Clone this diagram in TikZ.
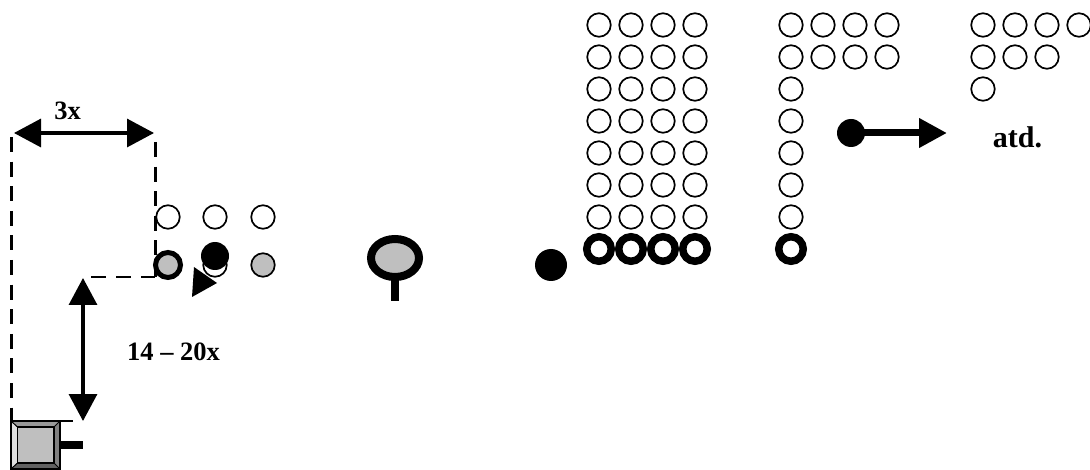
\documentclass[tikz,border=0pt]{standalone}
\usepackage{fontspec}
\setmainfont{Liberation Serif}
\usetikzlibrary{arrows.meta,shapes.geometric}
\tikzset{
  open/.style={circle,draw=black,fill=white,line width=1.7pt,minimum size=23.5pt,inner sep=0pt,outer sep=0pt},
  ring/.style={circle,draw=black,fill=white,line width=7.5pt,minimum size=24.5pt,inner sep=0pt,outer sep=0pt},
  greydot/.style={open,fill=black!25},
  soliddot/.style={circle,fill=black,inner sep=0pt,outer sep=0pt},
  lab/.style={font=\bfseries\fontsize{26.5}{30}\selectfont,inner sep=0pt,text=black},
  dimen/.style={line width=3.3pt,{Triangle[length=27pt,width=28pt]}-{Triangle[length=27pt,width=28pt]}},
  guide/.style={line width=3pt,dash pattern=on 15pt off 9.6pt},
  guideh/.style={line width=2.6pt,dash pattern=on 15pt off 10pt},
}
\begin{document}
\begin{tikzpicture}[x=1pt,y=-1pt]
\useasboundingbox (0,0) rectangle (1090,470);
% first block
\foreach \i/\x in {1/599,2/631,3/663,4/695}{
  \foreach \j/\y in {1/25,2/57,3/89,4/121,5/153,6/185,7/217}
    \node[open] (a\i\j) at (\x,\y) {};
  \node[ring] (ar\i) at (\x,249) {};
}
% second block
\foreach \i/\x in {1/791,2/823,3/855,4/887}{
  \foreach \j/\y in {1/25,2/57}
    \node[open] (b\i\j) at (\x,\y) {};
}
\foreach \j/\y in {3/89,4/121,5/153,6/185,7/217}
  \node[open] (b1\j) at (791,\y) {};
\node[ring] (br1) at (791,249) {};
% third block
\foreach \i/\x in {1/983,2/1015,3/1047,4/1079}
  \node[open] (c\i1) at (\x,25) {};
\foreach \i/\x in {1/983,2/1015,3/1047}
  \node[open] (c\i2) at (\x,57) {};
\node[open] (c13) at (983,89) {};
% atd arrow
\node[soliddot,minimum size=28pt] (mover) at (851,133) {};
\coordinate (movert) at (947,133);
\draw[line width=7pt,-{Triangle[length=28pt,width=28pt]}] (mover.center) -- (movert);
\node[lab,anchor=base,font=\bfseries\fontsize{30}{34}\selectfont] (atd) at (1017.5,148) {atd.};
% lone dot
\node[soliddot,minimum size=32pt] (dot) at (551,265) {};
% target
\coordinate (stemb) at (395,301);
\node[ellipse,draw=black,fill=black!25,line width=8pt,minimum width=48pt,minimum height=38pt,inner sep=0pt,outer sep=0pt] (target) at (395,258) {};
\draw[line width=8pt] (target.south) -- (stemb);
% small group
\foreach \i/\x in {1/168,2/215,3/263}
  \node[open] (s\i) at (\x,217) {};
\node[circle,draw=black,fill=black!25,line width=5pt,minimum size=25pt,inner sep=0pt,outer sep=0pt] (g1) at (168,265) {};
\node[open] (g2) at (215,265) {};
\node[greydot] (g3) at (263,265) {};
\node[soliddot,minimum size=28pt] (g2b) at (215,256) {};
\fill[black] (194,267) -- (217,283) -- (192,297) -- cycle;
% guides
\coordinate (la) at (11,137);
\coordinate (lb) at (11,421);
\coordinate (ra) at (155,142);
\coordinate (rb) at (155,277);
\coordinate (rc) at (91,277);
\draw[guide] (la) -- (lb);
\draw[guide] (ra) -- (rb);
\draw[guideh] (rc) -- (rb);
% dimensions
\coordinate (d1) at (14,133);
\coordinate (d2) at (154,133);
\draw[dimen] (d1) -- (d2);
\node[lab,anchor=base] (l3x) at (67.5,120) {3x};
\coordinate (d3) at (83,278);
\coordinate (d4) at (83,421);
\draw[dimen] (d3) -- (d4);
\node[lab,anchor=base west] (l14) at (127,361) {14 – 20x};
% tank
\fill[black!12] (11,421) -- (17.5,427) -- (17.5,463) -- (11,469) -- cycle;
\fill[black!40] (11,421) -- (60,421) -- (54,427) -- (17.5,427) -- cycle;
\fill[black!50] (60,421) -- (60,469) -- (54,463) -- (54,427) -- cycle;
\fill[black!62] (11,469) -- (60,469) -- (54,463) -- (17.5,463) -- cycle;
\node[rectangle,draw=black,fill=black!25,line width=1.4pt,minimum width=36.5pt,minimum height=36pt,inner sep=0pt,outer sep=0pt] (tankin) at (35.75,445) {};
\draw[line width=1.6pt] (11,421) -- (11,469) -- (60,469) -- (60,421);
\coordinate (t1) at (11,421);
\coordinate (t2) at (73,421);
\draw[line width=2pt] (t1) -- (t2);
\coordinate (g0) at (60,445);
\coordinate (g9) at (83,445);
\draw[line width=8pt] (g0) -- (g9);
\draw[line width=1pt] (11,421) -- (tankin.north west) (60,421) -- (tankin.north east) (11,469) -- (tankin.south west) (60,469) -- (tankin.south east);
\end{tikzpicture}
\end{document}
